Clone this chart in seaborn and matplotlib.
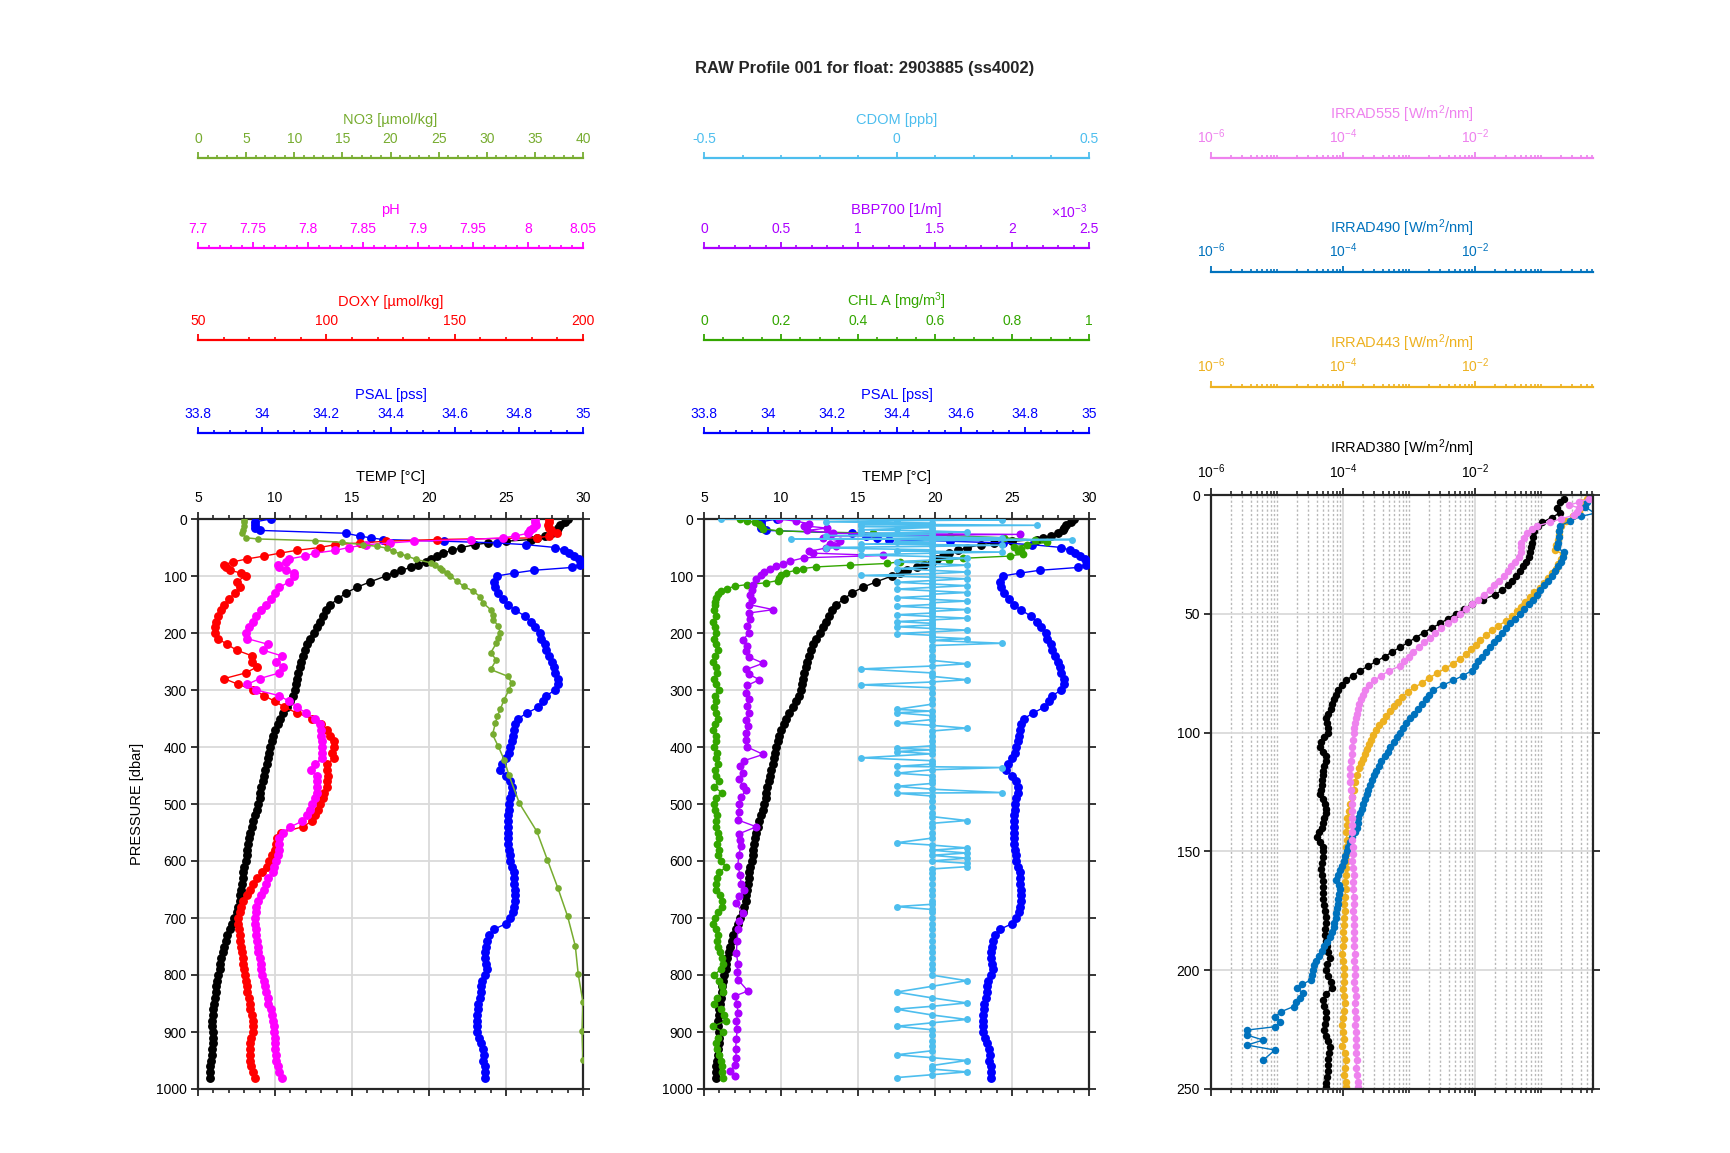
import matplotlib
matplotlib.use('Agg')
import matplotlib.pyplot as plt
import matplotlib.ticker as mticker
import seaborn as sns

# ---------------- data ----------------
TITLE = 'RAW Profile 001 for float: 2903885 (ss4002)'

# CTD-like grid shared by TEMP / PSAL / DOXY / PH  [dbar]
pres = [0, 5, 10, 15, 20, 25, 30, 33, 36, 39, 42, 45, 50, 55, 60, 65, 70, 75, 80, 85, 90, 95, 100,
        110, 120, 130, 140, 150, 160, 170, 180, 190, 200,
        210, 220, 230, 240, 250, 260, 270, 280, 290, 300,
        310, 320, 330, 340, 350, 360, 370, 380, 390, 400,
        410, 420, 430, 440, 450, 460, 470, 480, 490, 500,
        510, 520, 530, 540, 550, 560, 570, 580, 590, 600,
        610, 620, 630, 640, 650, 660, 670, 680, 690, 700,
        710, 720, 730, 740, 750, 760, 770, 780, 790, 800,
        810, 820, 830, 840, 850, 860, 870, 880, 890, 900,
        910, 920, 930, 940, 950, 960, 970, 980]

temp = [29.0, 28.8, 28.5, 28.4, 28.3, 28.0, 27.5, 27.0, 26.6, 25.0, 23.8, 23.0, 22.1, 21.5, 20.9, 20.5,
        20.1, 19.8, 19.3, 18.8, 18.2, 17.7, 17.2,
        16.2, 15.3, 14.6, 14.1, 13.6, 13.3, 13.1, 12.9, 12.7, 12.5,
        12.3, 12.1, 11.95, 11.8, 11.7, 11.6, 11.5, 11.4, 11.35, 11.3,
        11.2, 11.0, 10.8, 10.5, 10.3, 10.2, 10.0, 9.9, 9.8, 9.7,
        9.6, 9.55, 9.45, 9.35, 9.3, 9.2, 9.1, 9.05, 9.0, 8.9,
        8.8, 8.7, 8.6, 8.5, 8.4, 8.3, 8.25, 8.2, 8.15, 8.1,
        8.0, 7.95, 7.9, 7.85, 7.8, 7.75, 7.7, 7.6, 7.5, 7.35,
        7.2, 7.05, 6.9, 6.8, 6.7, 6.6, 6.5, 6.45, 6.4, 6.3,
        6.25, 6.2, 6.15, 6.1, 6.05, 6.0, 5.95, 5.9, 5.9, 5.95,
        6.0, 5.95, 5.9, 5.9, 5.85, 5.8, 5.8, 5.75]

psal = [34.026, 33.978, 33.978, 33.978, 33.992, 34.261, 34.304, 34.338, 34.376, 34.568, 34.731, 34.822,
        34.914, 34.942, 34.957, 34.971, 34.986, 34.995, 34.990, 34.966, 34.846, 34.784, 34.731,
        34.722, 34.726, 34.736, 34.750, 34.765, 34.789, 34.818, 34.837, 34.851, 34.866,
        34.870, 34.880, 34.885, 34.894, 34.902, 34.909, 34.914, 34.923, 34.921, 34.914,
        34.885, 34.875, 34.861, 34.827, 34.798, 34.789, 34.784, 34.782, 34.779, 34.774,
        34.770, 34.760, 34.746, 34.741, 34.760, 34.774, 34.779, 34.779, 34.774, 34.770,
        34.770, 34.767, 34.765, 34.765, 34.765, 34.765, 34.765, 34.770, 34.772, 34.774,
        34.779, 34.784, 34.784, 34.786, 34.789, 34.789, 34.789, 34.786, 34.782, 34.774,
        34.760, 34.722, 34.707, 34.702, 34.698, 34.695, 34.695, 34.698, 34.700, 34.693,
        34.686, 34.683, 34.681, 34.678, 34.674, 34.674, 34.671, 34.669, 34.669, 34.671,
        34.676, 34.681, 34.688, 34.690, 34.688, 34.693, 34.695, 34.693]

doxy = [186.8, 186.8, 186.5, 186.8, 187.4, 189.8, 186.8, 182.0, 143.0, 123.2, 113.0, 103.4, 97.4, 88.4,
        81.8, 75.8, 69.2, 63.8, 60.2, 60.8, 62.6, 66.8, 68.6,
        65.0, 66.2, 64.4, 62.0, 60.2, 59.0, 57.8, 57.2, 56.6, 56.6,
        57.8, 61.4, 65.0, 71.0, 71.0, 72.8, 68.6, 60.2, 65.6, 71.6,
        75.8, 80.0, 83.6, 88.4, 94.4, 98.0, 100.1, 101.6, 102.8, 102.8,
        102.2, 102.8, 100.4, 100.4, 100.7, 100.4, 100.1, 99.2, 98.6, 97.7,
        96.8, 95.6, 94.4, 90.8, 82.4, 80.6, 80.3, 80.0, 78.8, 77.6,
        76.7, 74.9, 73.1, 71.6, 70.4, 69.2, 67.7, 66.8, 66.2, 65.6,
        65.6, 65.9, 66.2, 66.5, 66.8, 67.1, 67.4, 67.7, 68.0, 68.3,
        68.6, 68.9, 69.2, 69.8, 70.1, 70.4, 71.0, 71.3, 71.6, 71.3,
        70.7, 70.4, 70.4, 70.4, 70.4, 70.7, 71.3, 72.2]

ph = [8.006, 8.006, 8.007, 8.005, 8.002, 8.000, 7.988, 7.977, 7.948, 7.896, 7.875, 7.853, 7.837, 7.825,
      7.806, 7.797, 7.783, 7.780, 7.773, 7.774, 7.780, 7.787, 7.787,
      7.783, 7.774, 7.770, 7.766, 7.762, 7.757, 7.753, 7.750, 7.746, 7.744,
      7.745, 7.764, 7.759, 7.776, 7.771, 7.777, 7.774, 7.756, 7.745, 7.753,
      7.774, 7.783, 7.790, 7.798, 7.806, 7.811, 7.812, 7.812, 7.813, 7.813,
      7.813, 7.813, 7.806, 7.803, 7.808, 7.808, 7.808, 7.808, 7.806, 7.804,
      7.802, 7.799, 7.795, 7.784, 7.777, 7.774, 7.774, 7.774, 7.773, 7.771,
      7.769, 7.768, 7.764, 7.762, 7.760, 7.757, 7.755, 7.753, 7.753, 7.752,
      7.752, 7.753, 7.753, 7.754, 7.755, 7.755, 7.756, 7.757, 7.757, 7.758,
      7.760, 7.761, 7.762, 7.764, 7.764, 7.766, 7.767, 7.768, 7.769, 7.769,
      7.770, 7.770, 7.770, 7.771, 7.771, 7.773, 7.774, 7.776]

no3_pres = [1, 6, 13, 19, 25, 33, 35, 38, 41, 45,
            48, 51, 57, 61, 65, 71, 77, 81, 86, 89,
            95, 100, 109, 118, 127, 136, 147, 159, 168, 177,
            188, 200, 209, 218, 235, 247, 264, 276, 288, 300,
            317, 334, 346, 358, 378, 399, 422, 449, 499, 548,
            598, 648, 697, 749, 798, 848, 899, 949]
no3 = [4.8, 4.8, 4.8, 4.7, 4.6, 5.0, 6.2, 12.2, 15.0, 17.1,
       18.6, 19.6, 20.3, 21.0, 21.7, 22.7, 24.2, 24.6, 25.1, 25.4,
       25.9, 26.2, 26.9, 27.6, 28.6, 29.3, 29.6, 30.4, 30.6, 30.7,
       31.2, 31.4, 31.2, 31.0, 30.4, 31.0, 30.4, 32.2, 32.6, 32.3,
       31.8, 31.4, 31.1, 30.9, 30.6, 31.2, 31.8, 32.3, 33.4, 35.2,
       36.3, 37.4, 38.4, 39.2, 39.5, 40.0, 39.9, 40.0]

chl_pres = [0, 3, 6, 9, 13, 17, 21, 25, 29, 33,
            37, 41, 45, 49, 53, 57, 61, 65, 69, 72,
            75, 78, 81, 84, 87, 90, 94, 98, 103, 108,
            112, 115, 118, 122, 127, 132, 138, 145, 150, 160,
            170, 180, 190, 200, 210, 220, 230, 240, 250, 260,
            270, 280, 290, 300, 310, 320, 330, 340, 350, 360,
            370, 380, 390, 400, 410, 420, 430, 440, 450, 460,
            470, 480, 490, 500, 510, 520, 530, 540, 550, 560,
            570, 580, 590, 600, 610, 620, 630, 640, 650, 660,
            670, 680, 690, 700, 710, 720, 730, 740, 750, 760,
            770, 780, 790, 800, 810, 820, 830, 840, 850, 860,
            870, 880, 890, 900, 910, 920, 930, 940, 950, 960,
            970, 980]
chl = [0.094, 0.112, 0.132, 0.144, 0.148, 0.152, 0.196, 0.44, 0.64, 0.78,
       0.86, 0.892, 0.84, 0.804, 0.824, 0.816, 0.828, 0.796, 0.672, 0.636,
       0.508, 0.476, 0.38, 0.292, 0.256, 0.24, 0.212, 0.2, 0.196, 0.192,
       0.16, 0.112, 0.08, 0.06, 0.044, 0.036, 0.032, 0.028, 0.028, 0.026,
       0.03, 0.024, 0.028, 0.032, 0.026, 0.03, 0.036, 0.028, 0.024, 0.03,
       0.034, 0.026, 0.03, 0.038, 0.028, 0.032, 0.026, 0.03, 0.036, 0.028,
       0.024, 0.032, 0.03, 0.026, 0.034, 0.03, 0.036, 0.028, 0.032, 0.04,
       0.026, 0.046, 0.03, 0.026, 0.028, 0.034, 0.03, 0.032, 0.036, 0.038,
       0.034, 0.04, 0.036, 0.044, 0.058, 0.04, 0.034, 0.03, 0.03, 0.042,
       0.046, 0.048, 0.036, 0.028, 0.024, 0.032, 0.036, 0.034, 0.036, 0.042,
       0.048, 0.05, 0.044, 0.026, 0.04, 0.048, 0.05, 0.034, 0.026, 0.044,
       0.052, 0.058, 0.024, 0.05, 0.036, 0.03, 0.034, 0.04, 0.044, 0.046,
       0.048, 0.05]

bbp_pres = [0, 4, 8, 12, 16, 20, 25, 27, 30, 33,
            38, 43, 47, 51, 57, 60, 64, 68, 74, 79,
            83, 88, 93, 98, 106, 115, 124, 133, 142, 150,
            159, 165, 175, 188, 200, 212, 222, 232, 242, 253,
            264, 272, 282, 292, 305, 315, 328, 340, 352, 364,
            375, 388, 400, 413, 424, 434, 445, 457, 469, 475,
            488, 500, 514, 528, 540, 552, 563, 574, 590, 609,
            625, 640, 650, 662, 674, 691, 705, 720, 740, 761,
            780, 795, 808, 828, 837, 850, 867, 880, 895, 913,
            930, 945, 958, 969, 978]
bbp700 = [4.9e-4, 6.0e-4, 6.8e-4, 6.5e-4, 8.0e-4, 6.7e-4, 8.4e-4, 20.5e-4, 8.2e-4, 7.7e-4,
          8.8e-4, 8.2e-4, 8.6e-4, 7.9e-4, 6.8e-4, 7.1e-4, 11.6e-4, 6.5e-4, 5.6e-4, 5.1e-4,
          4.7e-4, 4.3e-4, 3.9e-4, 3.7e-4, 3.4e-4, 3.2e-4, 3.1e-4, 3.0e-4, 3.1e-4, 2.9e-4,
          4.5e-4, 2.9e-4, 3.0e-4, 2.8e-4, 2.9e-4, 2.55e-4, 2.8e-4, 2.7e-4, 2.9e-4, 3.85e-4,
          2.75e-4, 2.9e-4, 3.6e-4, 2.8e-4, 2.75e-4, 2.9e-4, 2.8e-4, 2.95e-4, 2.7e-4, 2.85e-4,
          2.75e-4, 2.7e-4, 2.8e-4, 3.85e-4, 2.6e-4, 2.35e-4, 2.5e-4, 2.3e-4, 2.55e-4, 2.75e-4,
          2.4e-4, 2.3e-4, 2.25e-4, 2.2e-4, 3.4e-4, 2.3e-4, 2.35e-4, 2.4e-4, 2.25e-4, 2.2e-4,
          2.35e-4, 2.4e-4, 2.6e-4, 2.3e-4, 2.1e-4, 2.5e-4, 2.3e-4, 2.2e-4, 2.15e-4, 2.1e-4,
          2.2e-4, 2.15e-4, 2.2e-4, 2.85e-4, 2.0e-4, 2.15e-4, 2.2e-4, 2.1e-4, 2.15e-4, 2.1e-4,
          2.05e-4, 2.1e-4, 2.0e-4, 1.7e-4, 2.0e-4]

cdom_pres = [0, 1.5, 3, 5, 7, 9, 11, 13, 15, 17,
             19, 21, 23, 25, 27, 29, 31, 33, 35, 36,
             38, 40, 42, 44, 46, 48, 50, 52, 54, 56,
             58, 60, 63, 66, 69, 72, 75, 78, 81, 84,
             87, 90, 93, 96, 99, 102, 105, 108, 111, 114,
             117, 120, 123, 126, 129, 132, 135, 138, 141, 144,
             147, 150, 153, 156, 159, 162, 165, 168, 171, 174,
             177, 180, 183, 186, 189, 192, 195, 198, 201, 204,
             207, 210, 213, 218, 222, 230, 240, 248, 254, 258,
             263, 270, 276, 282, 286, 291, 296, 305, 315, 325,
             334, 337, 340, 345, 352, 358, 362, 367, 372, 380,
             390, 398, 402, 405, 408, 412, 419, 424, 430, 434,
             436, 440, 446, 450, 458, 464, 469, 474, 480, 481,
             486, 495, 505, 515, 522, 529, 534, 540, 550, 560,
             568, 572, 577, 581, 586, 590, 595, 600, 604, 610,
             614, 621, 630, 640, 650, 660, 670, 676, 680, 685,
             690, 700, 710, 720, 730, 740, 750, 760, 770, 780,
             790, 800, 810, 820, 830, 840, 849, 855, 860, 870,
             878, 884, 890, 896, 905, 915, 925, 933, 940, 945,
             950, 959, 965, 970, 975, 980]
cdom = [-0.456, 0.274, 0.0, -0.182, 0.091, -0.091, 0.365, -0.091, 0.091, 0.0,
        -0.091, 0.091, 0.182, -0.091, 0.091, -0.182, 0.091, 0.274, -0.274, 0.456,
        0.091, 0.0, 0.091, -0.091, 0.274, 0.091, -0.182, -0.091, 0.091, 0.0,
        0.274, 0.091, -0.091, 0.091, 0.182, 0.091, 0.0, 0.091, 0.182, 0.091,
        0.0, 0.091, 0.182, 0.091, -0.091, 0.091, 0.182, 0.091, 0.0, 0.091,
        0.182, 0.091, 0.0, 0.091, 0.182, 0.091, 0.091, 0.0, 0.091, 0.182,
        0.091, 0.091, 0.0, 0.091, 0.182, 0.091, 0.091, 0.0, 0.091, 0.182,
        0.091, 0.0, 0.091, 0.091, 0.0, 0.091, 0.182, 0.091, 0.0, 0.091,
        0.091, 0.182, 0.091, 0.274, 0.091, 0.091, 0.091, 0.091, 0.182, 0.091,
        -0.091, 0.091, 0.091, 0.182, 0.091, -0.091, 0.091, 0.091, 0.091, 0.091,
        0.0, 0.091, 0.0, 0.091, 0.091, 0.0, 0.091, 0.182, 0.091, 0.091,
        0.091, 0.091, 0.0, 0.091, 0.0, 0.091, -0.091, 0.091, 0.091, 0.0,
        0.274, 0.091, 0.0, 0.091, 0.091, 0.091, 0.0, 0.091, 0.274, 0.0,
        0.091, 0.091, 0.091, 0.091, 0.091, 0.182, 0.091, 0.091, 0.091, 0.091,
        0.0, 0.091, 0.182, 0.091, 0.182, 0.091, 0.182, 0.091, 0.182, 0.182,
        0.091, 0.091, 0.091, 0.091, 0.091, 0.091, 0.091, 0.091, 0.0, 0.091,
        0.091, 0.091, 0.091, 0.091, 0.091, 0.091, 0.091, 0.091, 0.091, 0.091,
        0.091, 0.091, 0.182, 0.091, 0.0, 0.091, 0.182, 0.091, 0.0, 0.091,
        0.182, 0.091, 0.0, 0.091, 0.091, 0.091, 0.091, 0.091, 0.0, 0.091,
        0.182, 0.091, 0.091, 0.182, 0.091, 0.0]

# radiometry [W/m^2/nm]
irr380_pres = [1.5, 3, 5.5, 7.5, 9.5, 11.5, 13, 15, 17.5, 20,
               22, 24, 26, 28, 30, 32, 34, 36, 38, 40,
               42, 44, 46, 48, 50, 52, 54, 56, 58, 60,
               62, 64, 66, 68, 70, 72, 74, 76, 78, 80,
               82, 84, 86, 88, 90, 92, 94, 96, 98, 100,
               102, 104, 106, 108, 110, 112, 114, 116, 118, 120,
               122, 124, 126, 128, 130, 132, 134, 136, 138, 140,
               142, 144, 146, 148, 150, 152.5, 155, 157.5, 160, 162.5,
               165, 167.5, 170, 172.5, 175, 177.5, 180, 182.5, 185, 187.5,
               190, 192.5, 195, 197.5, 200, 202.5, 205, 207.5, 210, 212.5,
               215, 217.5, 220, 222.5, 225, 227.5, 230, 232.5, 235, 237.5,
               240, 242.5, 245, 247.5, 249]
irr380 = [0.22, 0.195, 0.174, 0.195, 0.145, 0.105, 0.091, 0.079, 0.076, 0.072,
          0.071, 0.069, 0.066, 0.059, 0.054, 0.048, 0.042, 0.037, 0.032, 0.026,
          0.020, 0.0132, 0.0089, 0.0068, 0.0051, 0.0039, 0.0030, 0.0022, 0.00166, 0.00126,
          9.8e-4, 7.4e-4, 5.6e-4, 4.3e-4, 3.2e-4, 2.4e-4, 1.8e-4, 1.41e-4, 1.12e-4, 9.5e-5,
          8.5e-5, 7.9e-5, 7.2e-5, 6.8e-5, 6.5e-5, 6.0e-5, 5.6e-5, 5.8e-5, 6.0e-5, 6.0e-5,
          5.2e-5, 4.6e-5, 4.5e-5, 5.0e-5, 5.6e-5, 5.5e-5, 5.1e-5, 5.0e-5, 4.9e-5, 4.8e-5,
          4.8e-5, 4.7e-5, 4.5e-5, 5.0e-5, 5.4e-5, 5.6e-5, 5.6e-5, 5.2e-5, 5.0e-5, 4.8e-5,
          4.4e-5, 4.0e-5, 4.5e-5, 5.0e-5, 5.0e-5, 4.9e-5, 4.8e-5, 4.7e-5, 4.8e-5, 4.9e-5,
          5.0e-5, 5.0e-5, 5.0e-5, 5.1e-5, 5.4e-5, 5.6e-5, 5.5e-5, 5.4e-5, 5.4e-5, 5.5e-5,
          5.8e-5, 6.0e-5, 6.3e-5, 5.8e-5, 5.6e-5, 5.9e-5, 6.5e-5, 6.8e-5, 5.6e-5, 5.0e-5,
          5.2e-5, 5.6e-5, 5.6e-5, 5.4e-5, 5.2e-5, 5.5e-5, 6.0e-5, 6.3e-5, 6.2e-5, 6.0e-5,
          6.0e-5, 5.9e-5, 5.8e-5, 5.6e-5, 5.6e-5]

irr443_pres = [1.5, 3, 5, 7, 9, 11, 13, 15, 17, 19,
               21, 23, 25, 27, 29, 31, 33, 35, 37, 39,
               41, 43, 45, 47, 49, 51, 53, 55, 57, 59,
               61, 63, 65, 67, 69, 71, 73, 75, 77, 79,
               81, 83, 85, 87, 89, 91, 93, 95, 97, 99,
               101, 103, 105, 107, 109, 111, 113, 115, 118, 121,
               124, 127, 130, 133, 136, 139, 142, 145, 148, 151,
               154, 157, 160, 163, 166, 169, 172, 175, 178, 181,
               184, 187, 190, 193, 196, 199, 202, 205, 208, 211,
               214, 217, 220, 223, 226, 229, 232, 235, 238, 241,
               244, 247, 249]
irr443 = [0.49, 0.39, 0.44, 0.38, 0.31, 0.24, 0.204, 0.19, 0.186, 0.182,
          0.17, 0.162, 0.214, 0.20, 0.182, 0.166, 0.145, 0.126, 0.11, 0.095,
          0.079, 0.068, 0.058, 0.049, 0.043, 0.037, 0.030, 0.0224, 0.0182, 0.0148,
          0.012, 0.0102, 0.0087, 0.0072, 0.006, 0.0047, 0.0035, 0.0027, 0.0020, 0.0016,
          0.0012, 9.5e-4, 7.9e-4, 6.8e-4, 5.9e-4, 5.1e-4, 4.5e-4, 4.0e-4, 3.55e-4, 3.16e-4,
          2.88e-4, 2.63e-4, 2.45e-4, 2.29e-4, 2.14e-4, 2.0e-4, 1.86e-4, 1.74e-4, 1.62e-4, 1.51e-4,
          1.45e-4, 1.35e-4, 1.29e-4, 1.23e-4, 1.17e-4, 1.15e-4, 1.12e-4, 1.15e-4, 1.12e-4, 1.10e-4,
          1.15e-4, 1.12e-4, 1.10e-4, 1.07e-4, 1.10e-4, 1.07e-4, 1.05e-4, 1.07e-4, 1.05e-4, 1.02e-4,
          1.00e-4, 1.02e-4, 1.00e-4, 9.8e-5, 1.00e-4, 1.02e-4, 1.05e-4, 1.02e-4, 1.00e-4, 1.05e-4,
          1.07e-4, 1.02e-4, 1.00e-4, 9.8e-5, 1.00e-4, 1.02e-4, 9.8e-5, 1.07e-4, 1.12e-4, 1.07e-4,
          1.05e-4, 1.10e-4, 1.12e-4]

irr490_pres = [0.7, 3, 5, 7.7, 9, 11, 13, 15, 17.5, 20,
               22, 24, 26, 28, 30, 32, 34, 36, 38, 40,
               42, 44, 46, 48, 50, 52, 54, 56, 58, 60,
               62, 64, 66, 68, 70, 72, 74, 76, 78, 80,
               82, 84, 86, 88, 90, 92, 94, 96, 98, 100,
               102, 104, 106, 108, 110, 112, 114, 116, 118, 120,
               122, 124, 126, 128, 130, 132, 134, 136, 138, 140,
               142, 144, 146, 148, 150, 152, 154, 156, 158, 160,
               162, 164, 166, 168, 170, 172, 174, 176, 178, 180,
               182, 184, 186, 188, 190, 192, 194, 196, 198, 200,
               202, 204, 206, 207.6, 209.7, 211.5, 213.5, 215.3, 217.4, 219.6,
               221.7, 223.8, 225.2, 227.3, 229.4, 231.5, 233.6, 237.8]
irr490 = [0.55, 0.50, 0.47, 0.65, 0.40, 0.275, 0.195, 0.19, 0.19, 0.182,
          0.174, 0.22, 0.214, 0.20, 0.178, 0.162, 0.145, 0.129, 0.112, 0.098,
          0.087, 0.076, 0.066, 0.056, 0.048, 0.041, 0.034, 0.0295, 0.0257, 0.0224,
          0.0195, 0.017, 0.0148, 0.0129, 0.0112, 0.010, 0.0089, 0.0066, 0.0047, 0.0033,
          0.00234, 0.00204, 0.00178, 0.00158, 0.00138, 0.0012, 0.00105, 9.1e-4, 8.1e-4, 7.2e-4,
          6.6e-4, 5.9e-4, 5.2e-4, 4.8e-4, 4.3e-4, 3.8e-4, 3.5e-4, 3.2e-4, 2.95e-4, 2.75e-4,
          2.57e-4, 2.4e-4, 2.29e-4, 2.19e-4, 2.04e-4, 1.91e-4, 1.78e-4, 1.70e-4, 1.66e-4, 1.62e-4,
          1.51e-4, 1.38e-4, 1.29e-4, 1.20e-4, 1.15e-4, 1.07e-4, 1.02e-4, 9.5e-5, 8.9e-5, 8.3e-5,
          7.9e-5, 8.7e-5, 8.9e-5, 8.7e-5, 8.5e-5, 8.3e-5, 8.1e-5, 7.9e-5, 7.8e-5, 7.4e-5,
          7.2e-5, 6.8e-5, 6.3e-5, 5.8e-5, 5.2e-5, 4.8e-5, 4.4e-5, 3.9e-5, 3.6e-5, 3.5e-5,
          3.4e-5, 3.3e-5, 2.4e-5, 2.0e-5, 2.5e-5, 2.2e-5, 1.95e-5, 1.78e-5, 1.17e-5, 9.3e-6,
          1.12e-5, 9.3e-6, 3.5e-6, 3.5e-6, 6.2e-6, 3.5e-6, 9.3e-6, 6.2e-6]

irr555_pres = [1.5, 3, 4.2, 5.5, 7, 8.5, 10, 11.5, 13, 14.5,
               16, 18, 20, 22, 24, 26, 28, 30, 32, 34,
               36, 38, 40, 42, 44, 46, 48, 50, 52, 54,
               56, 58, 60, 62, 64, 66, 68, 70, 72, 74,
               76, 78, 80, 82, 84, 86, 88, 90, 92, 94,
               96, 98, 100, 103, 106, 109, 112, 115, 118, 121,
               124, 127, 130, 133, 136, 139, 142, 145, 148, 151,
               154, 157, 160, 163, 166, 169, 172, 175, 178, 181,
               184, 187, 190, 193, 196, 199, 202, 205, 208, 211,
               214, 217, 220, 223, 226, 229, 232, 235, 238, 241,
               244, 247, 249]
irr555 = [0.54, 0.38, 0.27, 0.38, 0.35, 0.32, 0.20, 0.138, 0.087, 0.072,
          0.062, 0.055, 0.049, 0.049, 0.050, 0.046, 0.040, 0.035, 0.032, 0.028,
          0.023, 0.0195, 0.0166, 0.0135, 0.011, 0.0089, 0.0072, 0.0059, 0.0048, 0.0039,
          0.0031, 0.0025, 0.0021, 0.0017, 0.0014, 0.00117, 0.0010, 8.5e-4, 7.2e-4, 5.0e-4,
          3.8e-4, 3.0e-4, 2.45e-4, 2.19e-4, 2.0e-4, 1.86e-4, 1.74e-4, 1.66e-4, 1.62e-4, 1.58e-4,
          1.51e-4, 1.48e-4, 1.45e-4, 1.41e-4, 1.38e-4, 1.35e-4, 1.32e-4, 1.29e-4, 1.29e-4, 1.29e-4,
          1.32e-4, 1.35e-4, 1.38e-4, 1.35e-4, 1.35e-4, 1.38e-4, 1.35e-4, 1.38e-4, 1.41e-4, 1.41e-4,
          1.38e-4, 1.41e-4, 1.45e-4, 1.41e-4, 1.41e-4, 1.45e-4, 1.45e-4, 1.41e-4, 1.45e-4, 1.48e-4,
          1.48e-4, 1.45e-4, 1.48e-4, 1.51e-4, 1.48e-4, 1.51e-4, 1.51e-4, 1.48e-4, 1.51e-4, 1.55e-4,
          1.51e-4, 1.51e-4, 1.55e-4, 1.51e-4, 1.55e-4, 1.58e-4, 1.55e-4, 1.58e-4, 1.62e-4, 1.58e-4,
          1.62e-4, 1.66e-4, 1.70e-4]

# colours
C_TEMP, C_PSAL, C_DOXY, C_PH, C_NO3 = 'black', '#0000FF', '#FF0000', '#FF00FF', '#77AC30'
C_CDOM, C_BBP, C_CHL = '#4DBEEE', '#AA00FF', '#33A600'
C_555, C_490, C_443, C_380 = '#EE82EE', '#0072BD', '#EDB120', 'black'

# ---------------- figure ----------------
sns.set_theme(style='white')
plt.rcParams['font.family'] = ['Liberation Sans', 'DejaVu Sans']
plt.rcParams['mathtext.fontset'] = 'custom'
plt.rcParams['mathtext.rm'] = 'Liberation Sans'
plt.rcParams['mathtext.it'] = 'Liberation Sans:italic'
plt.rcParams['mathtext.default'] = 'regular'

W, H = 1730, 1153
fig = plt.figure(figsize=(W / 100, H / 100), dpi=100)
AXC = '#262626'
GRID = '#dadada'
TICK_FS = 10
LAB_FS = 10.5


def fx(px):
    return px / W


def fy(px):
    return 1 - px / H


def draw(ax, x, y, color, ms=6.0, lw=1.0):
    sns.lineplot(x=x, y=y, ax=ax, color=color, marker='o', markersize=ms,
                 markeredgecolor=color, markeredgewidth=0, linewidth=lw,
                 sort=False, estimator=None, legend=False)


def overlay(ax, lo, hi, scale='linear'):
    t = ax.twiny()
    t.set_xscale(scale)
    t.set_xlim(lo, hi)
    t.xaxis.set_visible(False)
    for s in t.spines.values():
        s.set_visible(False)
    return t


def style_main(ax, ylim, yticks, xlabel):
    ax.set_ylim(ylim)
    ax.set_yticks(yticks)
    ax.xaxis.set_label_position('top')
    ax.set_xlabel(xlabel, fontsize=LAB_FS, labelpad=7, color='black')
    ax.tick_params(axis='x', which='both', top=True, bottom=True, labeltop=True,
                   labelbottom=False, direction='out')
    ax.tick_params(axis='y', which='both', left=True, right=True, labelleft=True,
                   labelright=False, direction='out')
    ax.tick_params(which='major', length=5, width=1.3, color=AXC, labelsize=TICK_FS,
                   labelcolor='black')
    ax.tick_params(which='minor', length=3, width=1.2, color=AXC)
    ax.tick_params(axis='x', pad=5)
    ax.tick_params(axis='y', pad=3)
    for s in ax.spines.values():
        s.set_color(AXC)
        s.set_linewidth(1.6)
    ax.grid(True, which='major', color=GRID, lw=1.3)
    ax.set_axisbelow(True)


def ruler(left, width, y, lo, hi, label, color, major, minor, log=False, fmt=None):
    ax = fig.add_axes([fx(left), fy(y), fx(width), 0.0001])
    ax.patch.set_visible(False)
    if log:
        ax.set_xscale('log')
    ax.set_xlim(lo, hi)
    ax.yaxis.set_visible(False)
    for s in ('left', 'right', 'bottom'):
        ax.spines[s].set_visible(False)
    ax.spines['top'].set_color(color)
    ax.spines['top'].set_linewidth(1.6)
    ax.xaxis.set_ticks_position('top')
    ax.xaxis.set_label_position('top')
    ax.xaxis.set_major_locator(major)
    ax.xaxis.set_minor_locator(minor)
    if fmt is not None:
        ax.xaxis.set_major_formatter(fmt)
    ax.xaxis.set_minor_formatter(mticker.NullFormatter())
    ax.tick_params(axis='x', which='both', top=True, bottom=False, labeltop=True,
                   labelbottom=False, direction='out', color=color, labelcolor=color)
    ax.tick_params(axis='x', which='major', length=4.5, width=1.3, labelsize=TICK_FS, pad=4)
    ax.tick_params(axis='x', which='minor', length=2.5, width=1.2)
    ax.set_xlabel(label, color=color, fontsize=LAB_FS, labelpad=6)
    return ax


ML = mticker.MultipleLocator
P1_L, P2_L, P3_L = 198, 704, 1211
PW = 385

# ---- panel 1 : TEMP, PSAL, DOXY, PH, NO3 ----
ax1 = fig.add_axes([fx(P1_L), fy(1089), fx(PW), 570 / H])
ax1.set_xlim(5, 30)
draw(ax1, temp, pres, C_TEMP, ms=6.4)
draw(overlay(ax1, 33.8, 35), psal, pres, C_PSAL, ms=6.4)
draw(overlay(ax1, 50, 200), doxy, pres, C_DOXY, ms=6.4)
draw(overlay(ax1, 7.7, 8.05), ph, pres, C_PH, ms=6.4)
draw(overlay(ax1, 0, 40), no3, no3_pres, C_NO3, ms=4.8, lw=1.1)
ax1.xaxis.set_major_locator(ML(5))
ax1.xaxis.set_minor_locator(ML(1))
style_main(ax1, (1000, 0), list(range(0, 1001, 100)), 'TEMP [°C]')
ax1.set_ylabel('PRESSURE [dbar]', fontsize=LAB_FS, labelpad=9, color='black')

ruler(P1_L, PW, 158, 0, 40, 'NO3 [µmol/kg]', C_NO3, ML(5), ML(1))
ruler(P1_L, PW, 248, 7.7, 8.05, 'pH', C_PH, ML(0.05), ML(0.01),
      fmt=mticker.FuncFormatter(lambda v, p: f'{v:.2f}'.rstrip('0').rstrip('.')))
ruler(P1_L, PW, 340, 50, 200, 'DOXY [µmol/kg]', C_DOXY, ML(50), ML(10))
ruler(P1_L, PW, 433, 33.8, 35, 'PSAL [pss]', C_PSAL, ML(0.2), ML(0.05),
      fmt=mticker.FuncFormatter(lambda v, p: f'{v:.1f}'.rstrip('0').rstrip('.')))

# ---- panel 2 : TEMP, PSAL, CHL, BBP700, CDOM ----
ax2 = fig.add_axes([fx(P2_L), fy(1089), fx(PW), 570 / H])
ax2.set_xlim(5, 30)
draw(ax2, temp, pres, C_TEMP, ms=6.4)
draw(overlay(ax2, 33.8, 35), psal, pres, C_PSAL, ms=6.4)
draw(overlay(ax2, 0, 1), chl, chl_pres, C_CHL, ms=5.6)
draw(overlay(ax2, 0, 2.5e-3), bbp700, bbp_pres, C_BBP, ms=5.8)
draw(overlay(ax2, -0.5, 0.5), cdom, cdom_pres, C_CDOM, ms=5.0, lw=1.2)
ax2.xaxis.set_major_locator(ML(5))
ax2.xaxis.set_minor_locator(ML(1))
style_main(ax2, (1000, 0), list(range(0, 1001, 100)), 'TEMP [°C]')

ruler(P2_L, PW, 158, -0.5, 0.5, 'CDOM [ppb]', C_CDOM, ML(0.5), ML(0.1),
      fmt=mticker.FuncFormatter(lambda v, p: f'{v:g}' if abs(v) > 1e-9 else '0'))
ruler(P2_L, PW, 248, 0, 2.5e-3, 'BBP700 [1/m]', C_BBP, ML(0.5e-3), ML(0.1e-3),
      fmt=mticker.FuncFormatter(lambda v, p: f'{v * 1e3:g}'))
fig.text(fx(P2_L + PW - 2), fy(212), '×10$^{-3}$', ha='right', va='center',
         color=C_BBP, fontsize=TICK_FS)
ruler(P2_L, PW, 340, 0, 1, 'CHL A [mg/m$^3$]', C_CHL, ML(0.2), ML(0.05),
      fmt=mticker.FuncFormatter(lambda v, p: f'{v:g}'))
ruler(P2_L, PW, 433, 33.8, 35, 'PSAL [pss]', C_PSAL, ML(0.2), ML(0.05),
      fmt=mticker.FuncFormatter(lambda v, p: f'{v:.1f}'.rstrip('0').rstrip('.')))

# ---- panel 3 : radiometry (log) ----
X_LO, X_HI = 1e-6, 0.614
log_major = [1e-6, 1e-4, 1e-2]
log_minor = [k * 10.0 ** n for n in range(-6, 0) for k in range(1, 10)
             if not (k == 1 and n % 2 == 0)]
P3W = 382
ax3 = fig.add_axes([fx(P3_L), fy(1089), fx(P3W), 594 / H])
ax3.set_xscale('log')
ax3.set_xlim(X_LO, X_HI)
draw(ax3, irr380, irr380_pres, C_380, ms=5.4)
draw(ax3, irr443, irr443_pres, C_443, ms=5.4)
draw(ax3, irr490, irr490_pres, C_490, ms=5.4)
draw(ax3, irr555, irr555_pres, C_555, ms=5.4)
ax3.set_xscale('log')
ax3.set_xlim(X_LO, X_HI)
ax3.xaxis.set_major_locator(mticker.FixedLocator(log_major))
ax3.xaxis.set_minor_locator(mticker.FixedLocator(log_minor))
ax3.xaxis.set_major_formatter(mticker.LogFormatterMathtext())
ax3.xaxis.set_minor_formatter(mticker.NullFormatter())
style_main(ax3, (250, 0), [0, 50, 100, 150, 200, 250], 'IRRAD380 [W/m$^2$/nm]')
ax3.grid(True, which='minor', axis='x', color='#b8b8b8', lw=1.0, linestyle=(0, (1.6, 1.6)))

for yy, lab, col in [(158, 'IRRAD555 [W/m$^2$/nm]', C_555),
                     (272, 'IRRAD490 [W/m$^2$/nm]', C_490),
                     (387, 'IRRAD443 [W/m$^2$/nm]', C_443)]:
    ruler(P3_L, P3W, yy, X_LO, X_HI, lab, col,
          mticker.FixedLocator(log_major), mticker.FixedLocator(log_minor), log=True,
          fmt=mticker.LogFormatterMathtext())

fig.text(0.5, fy(69), TITLE, ha='center', va='center', fontsize=12, fontweight='bold')

fig.savefig('out.png', dpi=100)
